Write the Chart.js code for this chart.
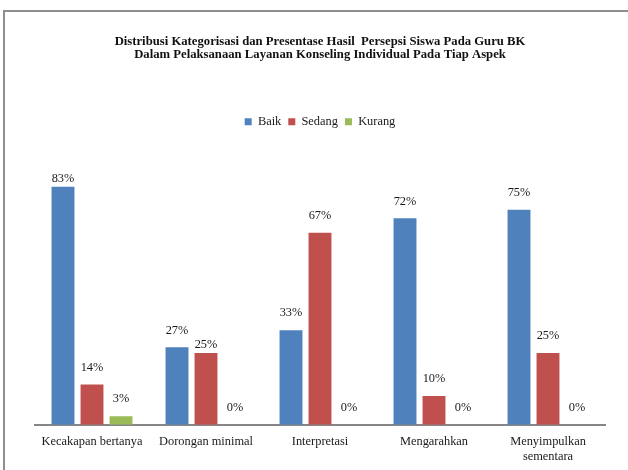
<!DOCTYPE html>
<html>
<head>
<meta charset="utf-8">
<script src="https://cdn.jsdelivr.net/npm/chart.js@4.4.1/dist/chart.umd.min.js"></script>
<style>
  html, body { margin: 0; padding: 0; background: #fff; }
  body { width: 628px; height: 470px; position: relative; overflow: hidden; }
  #frame {
    position: absolute; left: 3px; top: 10px; width: 700px; height: 500px;
    border-left: 2px solid #8e8e8e; border-top: 2px solid #8e8e8e;
  }
  #wrap { position: absolute; left: 0; top: 0; width: 628px; height: 470px; }
</style>
</head>
<body>
<div id="frame"></div>
<div id="wrap"><canvas id="chart" width="628" height="470"></canvas></div>
<script>
// Aspek layanan konseling individual
const categories = [
  'Kecakapan bertanya',
  'Dorongan minimal',
  'Interpretasi',
  'Mengarahkan',
  ['Menyimpulkan', 'sementara']
];

// Persentase tiap kategori (%)
const baik   = [83, 27, 33, 72, 75];
const sedang = [14, 25, 67, 10, 25];
const kurang = [3, 0, 0, 0, 0];

const seriesNames = ['Baik', 'Sedang', 'Kurang'];
const titleLines = [
  'Distribusi Kategorisasi dan Presentase Hasil  Persepsi Siswa Pada Guru BK',
  'Dalam Pelaksanaan Layanan Konseling Individual Pada Tiap Aspek'
];

const SERIF = '"Liberation Serif", "Times New Roman", serif';

// Percentage labels above every bar
const valueLabels = {
  id: 'valueLabels',
  afterDatasetsDraw(chart) {
    const ctx = chart.ctx;
    ctx.save();
    ctx.font = '12.4px ' + SERIF;
    ctx.fillStyle = '#1a1a1a';
    ctx.textAlign = 'center';
    ctx.textBaseline = 'middle';
    chart.data.datasets.forEach((ds, di) => {
      const meta = chart.getDatasetMeta(di);
      meta.data.forEach((bar, i) => {
        let lift = 17;
        if ((di === 0 && i === 0) || (di === 1 && i === 1)) lift = 8;
        ctx.fillText(ds.data[i] + '%', bar.x, bar.y - lift);
      });
    });
    ctx.restore();
  }
};

new Chart(document.getElementById('chart'), {
  type: 'bar',
  data: {
    labels: categories,
    datasets: [
      { label: seriesNames[0], data: baik,   backgroundColor: '#4F81BD' },
      { label: seriesNames[1], data: sedang, backgroundColor: '#C0504D' },
      { label: seriesNames[2], data: kurang, backgroundColor: '#9BBB59' }
    ]
  },
  options: {
    responsive: false,
    animation: false,
    events: [],
    layout: { padding: { left: 35, right: 23, top: 0, bottom: -3 } },
    datasets: { bar: { categoryPercentage: 0.763, barPercentage: 0.79 } },
    scales: {
      x: {
        grid: { display: false, drawTicks: false },
        border: { display: true, color: '#868686', width: 2 },
        ticks: {
          color: '#1a1a1a',
          font: { family: SERIF, size: 12.4, lineHeight: 1.22 },
          padding: 9,
          maxRotation: 0,
          autoSkip: false
        }
      },
      y: { display: false, min: 0, max: 100 }
    },
    plugins: {
      title: {
        display: true,
        text: titleLines,
        color: '#111',
        font: { family: SERIF, size: 12.7, weight: 'bold', lineHeight: 1.05 },
        padding: { top: 35, bottom: 47 }
      },
      legend: {
        position: 'top',
        labels: {
          boxWidth: 7,
          boxHeight: 7,
          padding: 7,
          color: '#1a1a1a',
          font: { family: SERIF, size: 12.4 }
        }
      },
      tooltip: { enabled: false }
    }
  },
  plugins: [valueLabels]
});
</script>
</body>
</html>
